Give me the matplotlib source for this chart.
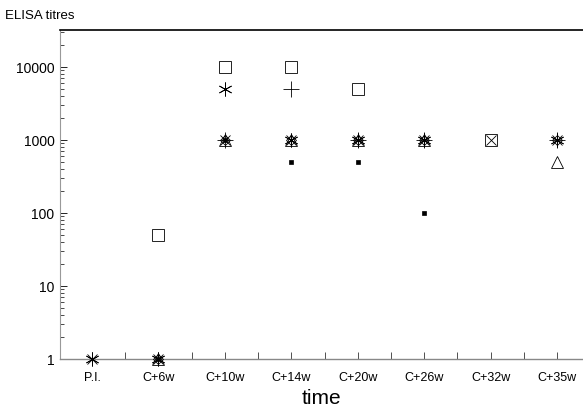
import numpy as np
import matplotlib.pyplot as plt
from matplotlib.ticker import LogLocator, FixedLocator, NullFormatter

plt.rcParams["font.family"] = ["Liberation Sans", "DejaVu Sans"]

nan = np.nan

# time points
times = ["P.I.", "C+6w", "C+10w", "C+14w", "C+20w", "C+26w", "C+32w", "C+35w"]

# ELISA titres per animal
animal_sq = [nan, 50, 10000, 10000, 5000, nan, 1000, nan]
animal_ast = [1, 1, 5000, 1000, 1000, 1000, nan, 1000]
animal_plus = [nan, nan, 1000, 5000, 1000, 1000, nan, 1000]
animal_tri = [nan, 1, 1000, 1000, 1000, 1000, nan, 500]
animal_dia = [nan, 1, 1000, 1000, 1000, 1000, nan, 1000]
animal_x = [1, 1, 1000, 1000, 1000, 1000, 1000, 1000]
animal_dot = [nan, 1, 1000, 500, 500, 100, nan, nan]

x = np.arange(len(times))

fig = plt.figure(figsize=(5.83, 4.08), dpi=100)
ax = fig.add_axes([0.103, 0.12, 0.897, 0.806])

style = dict(linestyle="none", color="black", clip_on=False, zorder=3)
ax.plot(x, animal_sq, marker="s", markersize=8, markerfacecolor="white",
        markeredgewidth=0.6, **style)
ax.plot(x, animal_tri, marker="^", markersize=9, markerfacecolor="none",
        markeredgewidth=0.6, **style)
ax.plot(x, animal_dia, marker="D", markersize=5, markerfacecolor="none",
        markeredgewidth=0.6, **style)
ax.plot(x, animal_x, marker="x", markersize=7, markeredgewidth=0.6, **style)
ax.plot(x, animal_plus, marker="+", markersize=11, markeredgewidth=0.6, **style)
ax.plot(x, animal_ast, marker=(6, 2, 0), markersize=10, markeredgewidth=0.6, **style)
ax.plot(x, animal_dot, marker="s", markersize=2.5, markerfacecolor="black",
        markeredgewidth=0.5, **style)

ax.set_yscale("log")
ax.set_ylim(1, 32000)
ax.set_xlim(-0.48, 7.39)

ax.set_xticks(x)
ax.set_xticklabels(times, fontsize=9)
ax.xaxis.set_minor_locator(FixedLocator(x[:-1] + 0.5))
ax.tick_params(axis="x", which="both", direction="in", length=5, width=0.6,
               pad=9, color="#333333")

ax.yaxis.set_minor_locator(LogLocator(base=10, subs=np.arange(2, 10), numticks=10))
ax.yaxis.set_minor_formatter(NullFormatter())
ax.set_yticks([1, 10, 100, 1000, 10000])
ax.set_yticklabels(["1", "10", "100", "1000", "10000"], fontsize=10)
ax.tick_params(axis="y", which="major", direction="in", length=5, width=0.6, pad=4)
ax.tick_params(axis="y", which="minor", direction="in", length=3, width=0.5)

ax.spines["right"].set_visible(False)
ax.spines["top"].set_linewidth(1.2)
ax.spines["left"].set_color("#999999")
ax.spines["left"].set_linewidth(0.8)
ax.spines["bottom"].set_color("#888888")
ax.spines["bottom"].set_linewidth(1.0)

ax.set_xlabel("time", fontsize=15, labelpad=4)
fig.text(0.008, 0.962, "ELISA titres", fontsize=9.5, ha="left", va="center")

plt.savefig("out.png", dpi=100)
